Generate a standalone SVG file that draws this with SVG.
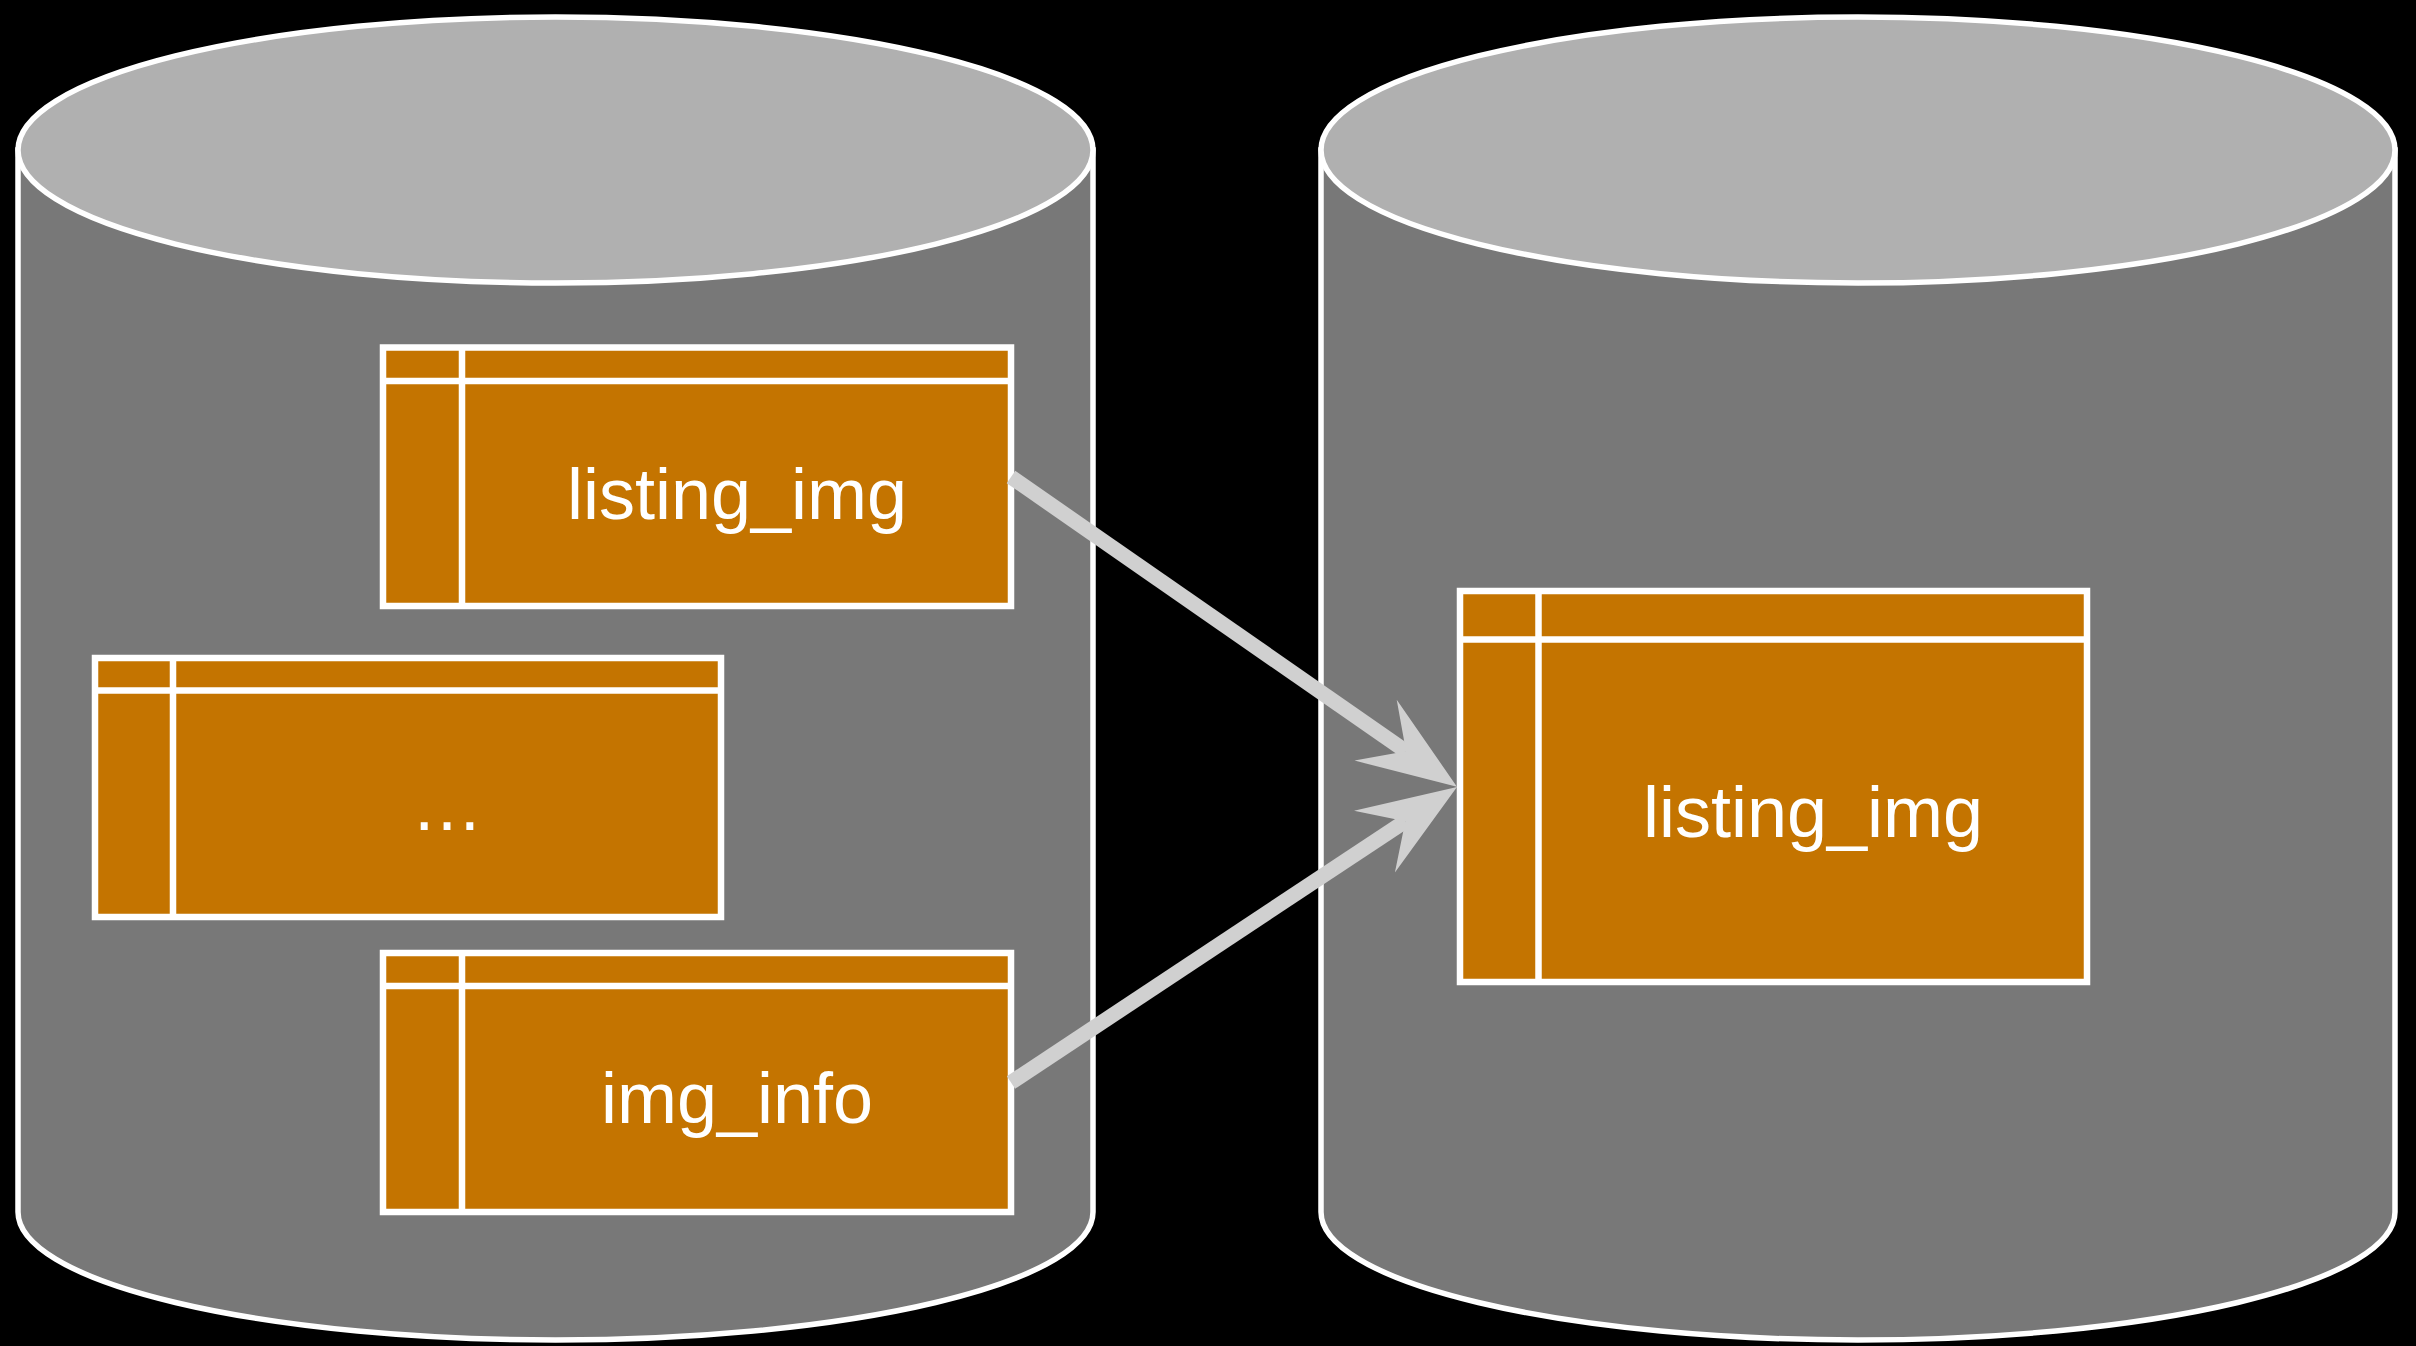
<svg xmlns="http://www.w3.org/2000/svg" width="2416" height="1346" viewBox="0 0 2416 1346">
<style>
.body{fill:#787878;stroke:#ffffff;stroke-width:5.5}
.top{fill:#b0b0b0;stroke:#ffffff;stroke-width:5.5}
.tbl{fill:#c47400;stroke:#ffffff;stroke-width:6.5}
.ln{stroke:#ffffff;stroke-width:6.5;fill:none}
.lbl{font-family:"Liberation Sans",Arial,sans-serif;font-size:72px;fill:#ffffff;text-anchor:middle}
.conn{stroke:#d0d0d0;stroke-width:15;fill:none}
</style>
<defs>
<marker id="arr" markerUnits="userSpaceOnUse" viewBox="0 -40 100 80" markerWidth="100" markerHeight="80" refX="37" refY="0" orient="auto" overflow="visible">
<path d="M0,-37 L99,0 L0,37 L37,0 Z" fill="#d0d0d0"/>
</marker>
</defs>
<rect x="0" y="0" width="2416" height="1346" fill="#000000"/>
<g id="db-source">
<path class="body" d="M18,150 L18,1212 A537.5,128 0 0 0 1093,1212 L1093,150 Z"/>
<ellipse class="top" cx="555.5" cy="150" rx="537.5" ry="133"/>
</g>
<g id="db-target">
<path class="body" d="M1321,150 L1321,1212 A537,128 0 0 0 2395,1212 L2395,150 Z"/>
<ellipse class="top" cx="1858" cy="150" rx="537" ry="133"/>
</g>
<g id="table-listing-img-src">
<rect class="tbl" x="383" y="347.5" width="628" height="258.5"/>
<line class="ln" x1="383" y1="381" x2="1011" y2="381"/>
<line class="ln" x1="462" y1="347.5" x2="462" y2="606"/>
<text class="lbl" x="737" y="519">listing_img</text>
</g>
<g id="table-ellipsis">
<rect class="tbl" x="95" y="658" width="626" height="259"/>
<line class="ln" x1="95" y1="690.5" x2="721" y2="690.5"/>
<line class="ln" x1="173" y1="658" x2="173" y2="917"/>
<text class="lbl" x="447" y="830">…</text>
</g>
<g id="table-img-info">
<rect class="tbl" x="383" y="953" width="628" height="259"/>
<line class="ln" x1="383" y1="986" x2="1011" y2="986"/>
<line class="ln" x1="462" y1="953" x2="462" y2="1212"/>
<text class="lbl" x="737" y="1123">img_info</text>
</g>
<g id="table-listing-img-dst">
<rect class="tbl" x="1460" y="591" width="627" height="391"/>
<line class="ln" x1="1460" y1="639.5" x2="2087" y2="639.5"/>
<line class="ln" x1="1538.5" y1="591" x2="1538.5" y2="982"/>
<text class="lbl" x="1813" y="837">listing_img</text>
</g>
<g id="connectors">
<line class="conn" x1="1011" y1="477" x2="1406" y2="751.3" marker-end="url(#arr)"/>
<line class="conn" x1="1011" y1="1082.5" x2="1405.3" y2="821.2" marker-end="url(#arr)"/>
</g>
</svg>
